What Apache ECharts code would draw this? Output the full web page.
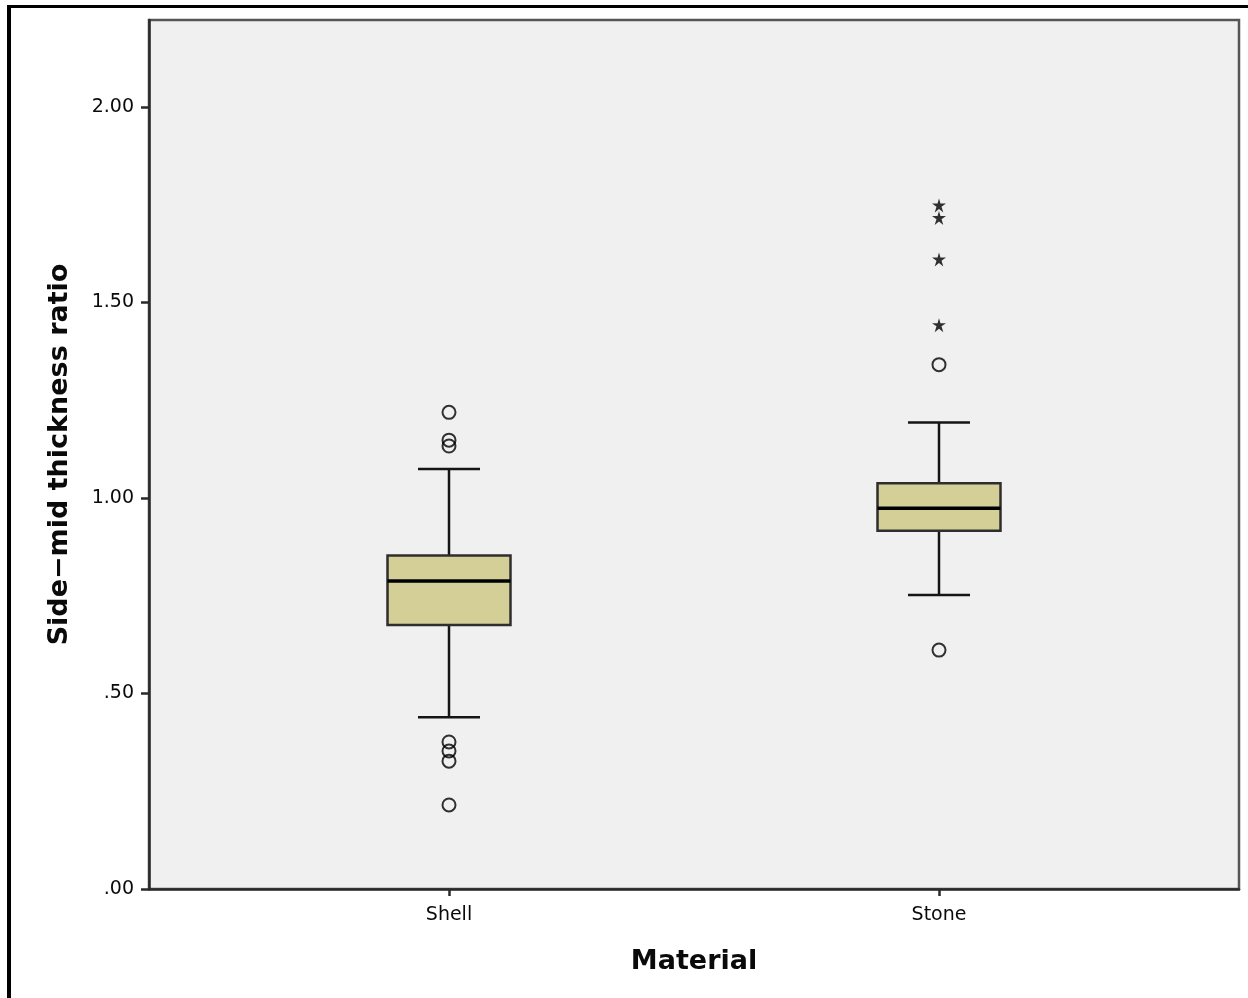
<!DOCTYPE html>
<html>
<head>
<meta charset="utf-8">
<script src="https://cdn.jsdelivr.net/npm/echarts@6/dist/echarts.min.js"></script>
<style>
html,body{margin:0;padding:0;background:#fff;}
#chart{width:1248px;height:998px;}
</style>
</head>
<body>
<div id="chart"></div>
<script>
// ---- data ----
var categories = ['Shell', 'Stone'];
// [lower whisker, Q1, median, Q3, upper whisker]
var shellBox = [0.439, 0.675, 0.788, 0.853, 1.074];
var stoneBox = [0.752, 0.916, 0.974, 1.038, 1.193];
// outliers (circles) and extremes (stars)
var shellOutliers = [1.219, 1.148, 1.133, 0.376, 0.353, 0.327, 0.215];
var stoneOutliers = [1.341, 0.611];
var stoneExtremes = [1.748, 1.716, 1.610, 1.442];
var yTicks = [0, 0.5, 1.0, 1.5, 2.0];
var yTickLabels = ['.00', '.50', '1.00', '1.50', '2.00'];

// ---- build ----
var boxes = [shellBox, stoneBox];
var boxData = boxes.map(function (b, i) { return [i].concat(b); });
var circleData = [];
shellOutliers.forEach(function (v) { circleData.push([0, v]); });
stoneOutliers.forEach(function (v) { circleData.push([1, v]); });
var starData = stoneExtremes.map(function (v) { return [1, v]; });

var starPath = 'path://M50 0 L60 34 L97.55 34.55 L67 56.18 L79.39 96 L50 72 L20.61 96 L33 56.18 L2.45 34.55 L40 34 Z';

var BOX_W = 0.251;   // in category units
var CAP_W = 0.1265;

function renderBox(params, api) {
  var x = api.value(0);
  var lo = api.value(1), q1 = api.value(2), med = api.value(3), q3 = api.value(4), hi = api.value(5);
  var pLo = api.coord([x, lo]);
  var pQ1 = api.coord([x, q1]);
  var pMed = api.coord([x, med]);
  var pQ3 = api.coord([x, q3]);
  var pHi = api.coord([x, hi]);
  var bw = api.size([BOX_W, 0])[0];
  var cw = api.size([CAP_W, 0])[0];
  var cx = pMed[0];
  var lineStyle = { stroke: '#151515', lineWidth: 2.5 };
  return {
    type: 'group',
    children: [
      { type: 'line', shape: { x1: cx, y1: pHi[1], x2: cx, y2: pQ3[1] }, style: lineStyle },
      { type: 'line', shape: { x1: cx, y1: pQ1[1], x2: cx, y2: pLo[1] }, style: lineStyle },
      { type: 'line', shape: { x1: cx - cw / 2, y1: pHi[1], x2: cx + cw / 2, y2: pHi[1] }, style: lineStyle },
      { type: 'line', shape: { x1: cx - cw / 2, y1: pLo[1], x2: cx + cw / 2, y2: pLo[1] }, style: lineStyle },
      { type: 'rect', shape: { x: cx - bw / 2, y: pQ3[1], width: bw, height: pQ1[1] - pQ3[1] },
        style: { fill: '#d3cf97', stroke: '#2e2e2e', lineWidth: 2.5 } },
      { type: 'line', shape: { x1: cx - bw / 2, y1: pMed[1], x2: cx + bw / 2, y2: pMed[1] },
        style: { stroke: '#000', lineWidth: 3.5 } }
    ]
  };
}

var chart = echarts.init(document.getElementById('chart'), null, { renderer: 'canvas' });
var XPAD = 300 / 490;
var option = {
  backgroundColor: '#ffffff',
  animation: false,
  textStyle: { fontFamily: 'DejaVu Sans' },
  graphic: [
    { type: 'rect', shape: { x: 7, y: 5, width: 4, height: 993 }, style: { fill: '#000' }, z: 100 },
    { type: 'rect', shape: { x: 7, y: 5, width: 1241, height: 3 }, style: { fill: '#000' }, z: 100 }
  ],
  grid: {
    left: 149, top: 20, right: 9, bottom: 109,
    show: true, backgroundColor: '#f0f0f0', borderColor: '#555', borderWidth: 2.5
  },
  xAxis: {
    type: 'value',
    min: -XPAD, max: 1 + XPAD,
    splitLine: { show: false },
    axisLine: { show: true, onZero: false, lineStyle: { color: '#2a2a2a', width: 2.5 } },
    axisTick: { show: true, length: 7, customValues: [0, 1], lineStyle: { color: '#2a2a2a', width: 2.5 } },
    axisLabel: {
      customValues: [0, 1], margin: 17, color: '#0a0a0a', fontSize: 19, fontFamily: 'DejaVu Sans',
      formatter: function (v) { return categories[Math.round(v)]; }
    },
    name: 'Material', nameLocation: 'middle', nameGap: 59,
    nameTextStyle: { fontSize: 27, fontWeight: 'bold', color: '#0a0a0a', fontFamily: 'DejaVu Sans' }
  },
  yAxis: {
    type: 'value', min: 0, max: 2.2225,
    splitLine: { show: false },
    axisLine: { show: true, onZero: false, lineStyle: { color: '#2a2a2a', width: 2.5 } },
    axisTick: { show: true, length: 8, customValues: yTicks, lineStyle: { color: '#2a2a2a', width: 2.5 } },
    axisLabel: {
      customValues: yTicks, margin: 15, color: '#0a0a0a', fontSize: 19, fontFamily: 'DejaVu Sans',
      formatter: function (v) {
        for (var i = 0; i < yTicks.length; i++) { if (Math.abs(yTicks[i] - v) < 1e-6) return yTickLabels[i]; }
        return '';
      }
    },
    name: 'Side−mid thickness ratio', nameLocation: 'middle', nameGap: 76,
    nameTextStyle: { fontSize: 27, fontWeight: 'bold', color: '#0a0a0a', fontFamily: 'DejaVu Sans' }
  },
  series: [
    {
      type: 'custom', renderItem: renderBox, data: boxData,
      encode: { x: 0, y: [1, 2, 3, 4, 5] }, z: 2
    },
    {
      type: 'scatter', data: circleData, symbol: 'circle', symbolSize: 13,
      itemStyle: { color: 'rgba(0,0,0,0)', borderColor: '#000', borderWidth: 2 }, z: 3
    },
    {
      type: 'scatter', data: starData, symbol: starPath, symbolSize: 14,
      itemStyle: { color: '#000' }, z: 3
    }
  ]
};
chart.setOption(option);
</script>
</body>
</html>
